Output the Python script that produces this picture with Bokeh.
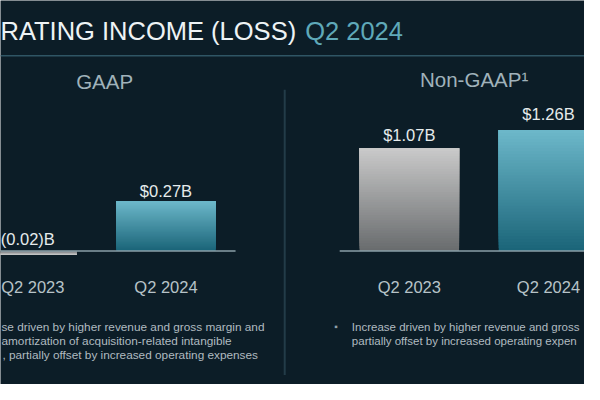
from bokeh.plotting import figure
from bokeh.models import Range1d
from bokeh.embed import file_html
from bokeh.resources import INLINE
from bokeh.core.properties import value

# ---------------- data ----------------
categories = ["Q2 2023", "Q2 2024"]
gaap_values = [-0.02, 0.27]          # $B
nongaap_values = [1.07, 1.26]        # $B
gaap_labels = ["(0.02)B", "$0.27B"]
nongaap_labels = ["$1.07B", "$1.26B"]
title_main = "RATING INCOME (LOSS)"
title_period = "Q2 2024"
panel_titles = ["GAAP", "Non-GAAP\u00b9"]
gaap_notes = ["se driven by higher revenue and gross margin and",
              "amortization of acquisition-related intangible",
              ", partially offset by increased operating expenses"]
nongaap_notes = ["Increase driven by higher revenue and gross",
                 "partially offset by increased operating expen"]

# ---------------- style ----------------
BG = "#0c1d27"
FONT = value("Liberation Sans")
bar_grad = [("#cacaca", "#686b6d"),   # prior year: gray (top, bottom)
            ("#6db8ca", "#1a6478")]   # current year: teal

W, H = 584, 384
p = figure(width=W, height=H, x_range=Range1d(0, 600), y_range=Range1d(400, 0),
           output_backend="svg", toolbar_location=None, min_border=0,
           x_axis_location=None, y_axis_location=None,
           background_fill_color=BG, border_fill_color=BG, outline_line_color=None)
p.xgrid.visible = False
p.ygrid.visible = False

# panel scales (category index -> x, value -> y)
p.extra_x_ranges = {"gx": Range1d(-27 / 143, -27 / 143 + 600 / 143),
                    "nx": Range1d(-420 / 143, -420 / 143 + 600 / 143)}
p.extra_y_ranges = {"gy": Range1d(-(400 - 261) / 192.6, 261 / 192.6),
                    "ny": Range1d(-(400 - 261) / 100.0, 261 / 100.0)}


def hex2rgb(h):
    return tuple(int(h[i:i + 2], 16) for i in (1, 3, 5))


def mix(c_bot, c_top, t):
    a, b = hex2rgb(c_bot), hex2rgb(c_top)
    return "#%02x%02x%02x" % tuple(int(round(a[i] + (b[i] - a[i]) * t)) for i in range(3))


def draw_bars(vals, xr, yr, n=40):
    xs, bots, tops, cols = [], [], [], []
    for i, v in enumerate(vals):
        top_c, bot_c = bar_grad[i]
        for k in range(n):
            xs.append(i)
            bots.append(v * k / n)
            tops.append(v)
            cols.append(mix(bot_c, top_c, (k + 0.5) / n))
    p.vbar(x=xs, bottom=bots, top=tops, width=0.715, fill_color=cols, line_color=None,
           x_range_name=xr, y_range_name=yr)
    p.segment(x0=[-0.5], x1=[len(vals) - 0.5], y0=[0], y1=[0], line_color="#8a9fa8",
              line_width=1.5, x_range_name=xr, y_range_name=yr)


draw_bars(gaap_values, "gx", "gy")
draw_bars(nongaap_values, "nx", "ny")

# value labels
p.text(x=list(range(len(gaap_values))), y=[max(v, 0) for v in gaap_values], text=gaap_labels,
       x_range_name="gx", y_range_name="gy", y_offset=[-12, -10], x_offset=[1, 0],
       text_align="center", text_baseline="alphabetic", text_font=FONT,
       text_font_size="16.5px", text_color="#e6ebec")
p.text(x=list(range(len(nongaap_values))), y=[max(v, 0) for v in nongaap_values], text=nongaap_labels,
       x_range_name="nx", y_range_name="ny", y_offset=[-13, -16],
       text_align="center", text_baseline="alphabetic", text_font=FONT,
       text_font_size="16.5px", text_color="#e6ebec")

# category labels
p.text(x=list(range(len(categories))), y=[298] * len(categories), text=categories,
       x_range_name="gx", x_offset=[6, 0], text_align="center", text_baseline="alphabetic",
       text_font=FONT, text_font_size="16.5px", text_color="#b7c3c8")
p.text(x=list(range(len(categories))), y=[298] * len(categories), text=categories,
       x_range_name="nx", text_align="center", text_baseline="alphabetic",
       text_font=FONT, text_font_size="16.5px", text_color="#b7c3c8")

# title
p.text(x=[0], y=[31.5], text=[title_main], text_font=FONT, text_font_size="25.5px",
       text_color="#eef3f5", text_baseline="alphabetic")
p.text(x=[313], y=[31.5], text=[title_period], text_font=FONT, text_font_size="25.5px",
       text_color="#5fa9b9", text_baseline="alphabetic")
p.segment(x0=[0], x1=[600], y0=[57.5], y1=[57.5], line_color="#2f5564", line_width=1.5)

# panel headers
p.text(x=[107], y=[84], text=[panel_titles[0]], text_align="center", text_font=FONT,
       text_font_size="20.5px", text_color="#a0b2ba", text_baseline="alphabetic")
p.text(x=[431], y=[82], text=[panel_titles[1]], text_align="left", text_font=FONT,
       text_font_size="20.5px", text_color="#a0b2ba", text_baseline="alphabetic")

# divider
p.segment(x0=[292], x1=[292], y0=[93], y1=[390], line_color="#233c48", line_width=2)

# notes
note_x_left = [1, 1, 2]
note_y = [340, 355, 369]
for i, line in enumerate(gaap_notes):
    p.text(x=[note_x_left[i]], y=[note_y[i]], text=[line], text_font=FONT,
           text_font_size="11.8px", text_color="#b0bbc0", text_baseline="alphabetic")
p.text(x=[343], y=[note_y[0]], text=["\u25aa"], text_font=FONT, text_font_size="10px",
       text_color="#8fa0a8", text_baseline="alphabetic")
for i, line in enumerate(nongaap_notes):
    p.text(x=[361], y=[note_y[i]], text=[line], text_font=FONT,
           text_font_size="11.5px", text_color="#b0bbc0", text_baseline="alphabetic")

open("out.html", "w").write(file_html(p, INLINE))
